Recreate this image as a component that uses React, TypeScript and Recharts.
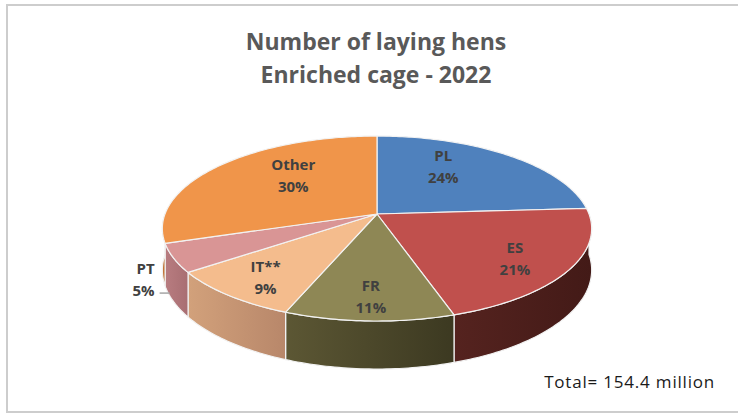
import React from 'react';
import { PieChart, Pie } from 'recharts';

const categories = ['PL', 'ES', 'FR', 'IT**', 'PT', 'Other'];
const shares = [24, 21, 11, 9, 5, 30];
const topColors = ['#4F81BD', '#C0504D', '#8E8755', '#F4BC8D', '#D99595', '#F0954A'];
const sideLight = ['#3F6796', '#55231F', '#5C5734', '#D2A17B', '#B87C80', '#C97A3A'];
const sideDark = ['#34557C', '#431A17', '#3C3921', '#B8876A', '#A86E72', '#B86D33'];
const titleLines = ['Number of laying hens', 'Enriched cage - 2022'];
const totalLabel = 'Total= 154.4 million';

const data = categories.map((name, i) => ({ name, value: shares[i], idx: i }));

const W = 738;
const H = 418;
const CX = 377;
const CY = 214;
const RX = 212;
const RATIO = 90.2 / 212; // vertical foreshortening
const PERSP = 0.157; // perspective strength
const DEPTH0 = 40.5;
const RAD = Math.PI / 180;
const FONT = '"Open Sans", "Liberation Sans", sans-serif';

function proj(cx: number, cy: number, r: number, X: number, Z: number) {
  const w = 1 + PERSP * Z;
  return [cx + (r * X) / w, cy - (r * RATIO * Z) / w, w];
}

function rim(cx: number, cy: number, r: number, a: number) {
  return proj(cx, cy, r, Math.cos(a * RAD), Math.sin(a * RAD));
}

function arcPoints(cx: number, cy: number, r: number, from: number, to: number) {
  const n = Math.max(2, Math.ceil(Math.abs(from - to)));
  const pts: number[][] = [];
  for (let i = 0; i <= n; i++) {
    const a = from + ((to - from) * i) / n;
    pts.push(rim(cx, cy, r, a));
  }
  return pts;
}

function SideShape(props: any) {
  const { cx, cy, startAngle, endAngle, outerRadius } = props;
  const idx = props.payload?.idx ?? props.idx ?? props.index ?? 0;
  const s = Math.max(startAngle, endAngle);
  const e = Math.min(startAngle, endAngle);
  const b = Math.min(s, 0);
  const a = Math.max(e, -180);
  if (b <= a) return <g />;
  const topPts = arcPoints(cx, cy, outerRadius, b, a);
  const botPts = topPts.map(([x, y, w]) => [x, y + DEPTH0 / w]).reverse();
  const d =
    'M' +
    topPts.map((p) => `${p[0].toFixed(2)},${p[1].toFixed(2)}`).join(' L') +
    ' L' +
    botPts.map((p) => `${p[0].toFixed(2)},${p[1].toFixed(2)}`).join(' L') +
    ' Z';
  const gid = `sideGrad${idx}`;
  return (
    <g>
      <defs>
        <linearGradient id={gid} x1="0" y1="0" x2="1" y2="0">
          <stop offset="0%" stopColor={sideLight[idx]} />
          <stop offset="100%" stopColor={sideDark[idx]} />
        </linearGradient>
      </defs>
      <path d={d} fill={`url(#${gid})`} stroke="#f2f2f2" strokeWidth={1.2} strokeLinejoin="round" />
    </g>
  );
}

function TopShape(props: any) {
  const { cx, cy, startAngle, endAngle, outerRadius } = props;
  const idx = props.payload?.idx ?? props.idx ?? props.index ?? 0;
  const s = Math.max(startAngle, endAngle);
  const e = Math.min(startAngle, endAngle);
  const pts = arcPoints(cx, cy, outerRadius, s, e);
  const d =
    `M${cx},${cy} L` + pts.map((p) => `${p[0].toFixed(2)},${p[1].toFixed(2)}`).join(' L') + ' Z';
  return <path d={d} fill={topColors[idx]} stroke="#f2f2f2" strokeWidth={1.2} strokeLinejoin="round" />;
}

function renderLabel(props: any) {
  const { cx, cy, midAngle, outerRadius, percent, name } = props;
  const pctText = `${Math.round(percent * 100)}%`;
  const c = Math.cos(midAngle * RAD);
  const sn = Math.sin(midAngle * RAD);
  const common = {
    fill: '#404040',
    fontFamily: FONT,
    fontWeight: 700,
    fontSize: 15,
    dominantBaseline: 'central' as const,
  };
  if (percent < 0.07) {
    const [px, py] = rim(cx, cy, outerRadius, midAngle);
    const tx = px - 19;
    return (
      <g>
        <line x1={px - 14} y1={py + 35} x2={px - 4} y2={py + 35} stroke="#a6a6a6" strokeWidth={1.5} />
        <text x={tx} y={py + 10} textAnchor="end" {...common}>
          {name}
        </text>
        <text x={tx} y={py + 32} textAnchor="end" {...common}>
          {pctText}
        </text>
      </g>
    );
  }
  const fx = 0.63 - 0.18 * sn;
  const fz = 0.8;
  const [x, y] = proj(cx, cy, outerRadius, fx * c, fz * sn);
  return (
    <g>
      <text x={x} y={y - 11} textAnchor="middle" {...common}>
        {name}
      </text>
      <text x={x} y={y + 11} textAnchor="middle" {...common}>
        {pctText}
      </text>
    </g>
  );
}

export default function App() {
  return (
    <div style={{ position: 'absolute', left: 0, top: 0, width: W, height: H, overflow: 'hidden', background: '#fff' }}>
      <div
        style={{
          position: 'absolute',
          left: 6,
          top: 4,
          width: 760,
          height: 409,
          border: '2px solid #cdcdcd',
          boxSizing: 'border-box',
        }}
      />
      <div
        style={{
          position: 'absolute',
          left: 0,
          top: 25,
          width: 752,
          textAlign: 'center',
          fontFamily: FONT,
          fontWeight: 700,
          fontSize: 23,
          lineHeight: '33px',
          color: '#595959',
        }}
      >
        {titleLines.map((t) => (
          <div key={t}>{t}</div>
        ))}
      </div>
      <div style={{ position: 'absolute', left: 0, top: 0 }}>
        <PieChart width={W} height={H} margin={{ top: 0, right: 0, bottom: 0, left: 0 }}>
          <Pie
            data={data}
            dataKey="value"
            nameKey="name"
            cx={CX}
            cy={CY}
            outerRadius={RX}
            startAngle={90}
            endAngle={-270}
            shape={SideShape}
            label={false}
            labelLine={false}
            isAnimationActive={false}
          />
          <Pie
            data={data}
            dataKey="value"
            nameKey="name"
            cx={CX}
            cy={CY}
            outerRadius={RX}
            startAngle={90}
            endAngle={-270}
            shape={TopShape}
            label={renderLabel}
            labelLine={false}
            isAnimationActive={false}
          />
        </PieChart>
      </div>
      <div
        style={{
          position: 'absolute',
          left: 0,
          width: 715,
          top: 370,
          textAlign: 'right',
          fontFamily: FONT,
          fontSize: 17,
          letterSpacing: '0.8px',
          color: '#1a1a1a',
        }}
      >
        {totalLabel}
      </div>
    </div>
  );
}
